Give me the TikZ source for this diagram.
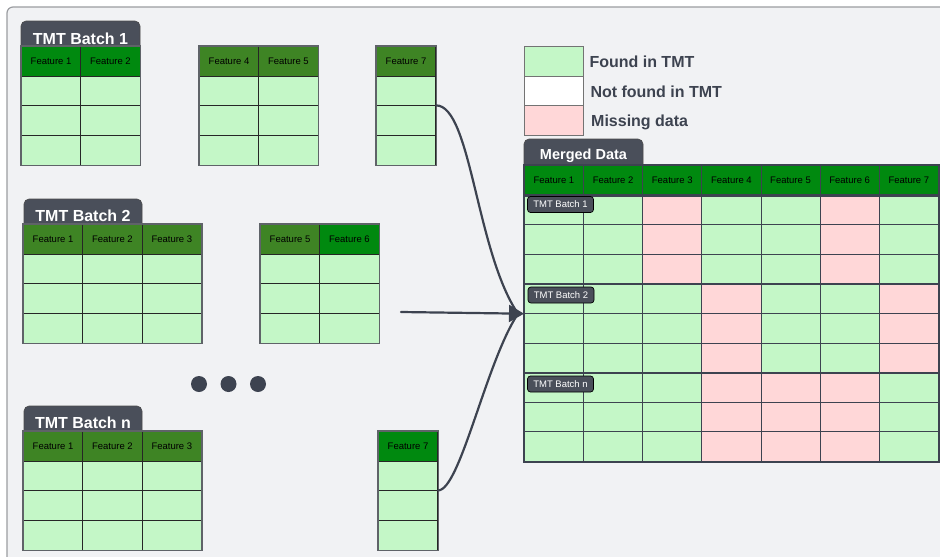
\documentclass[tikz,border=0pt]{standalone}
\usepackage{fontspec}
\setmainfont{Liberation Sans}
\usetikzlibrary{arrows.meta}
\definecolor{bg}{HTML}{F1F2F4}
\definecolor{framegray}{HTML}{9B9DA1}
\definecolor{lgreen}{HTML}{C4F7C7}
\definecolor{pinkc}{HTML}{FFD7D8}
\definecolor{hgreen}{HTML}{00890F}
\definecolor{ogreen}{HTML}{3E8424}
\definecolor{tabgray}{HTML}{4A4F5A}
\definecolor{ink}{HTML}{3D4350}
\definecolor{outerc}{HTML}{5F6368}

\newcommand\mktable[5]{%
  \foreach \c/\t [count=\i] in {#5} {%
    \node[cellbox, fill=\c] (#1-0-\i) at ({#2+(\i-1)*59.4},#3) {\t};
    \foreach \r in {1,2,3} {\node[cellbox, fill=lgreen] (#1-\r-\i) at ({#2+(\i-1)*59.4},{#3+\r*29.7}) {};}
  }%
  \draw[outerbox] (#1-0-1.north west) rectangle (#1-3-#4.south east);
}
\newcommand\mktab[5]{% name, x1, y1, x2, y2
  \filldraw[fill=tabgray, draw=black!70, line width=0.6pt, rounded corners=5pt] (#2,#5) -- (#2,#3) -- (#4,#3) -- (#4,#5);
}

\begin{document}
\begin{tikzpicture}[x=1pt,y=-1pt,
  cellbox/.style={rectangle, draw=black!85, line width=0.7pt, minimum width=59.4pt, minimum height=29.7pt,
    inner sep=0pt, anchor=north west, font=\fontsize{9.5}{11}\selectfont, text=black},
  mcell/.style={cellbox, draw=ink, minimum width=59.15pt, minimum height=29.6pt},
  outerbox/.style={draw=outerc, line width=1.2pt},
  tabtext/.style={anchor=base, inner sep=0pt, text=white, font=\fontsize{16}{18}\selectfont\bfseries},
  legtext/.style={anchor=base west, inner sep=0pt, text=ink, font=\fontsize{16}{18}\selectfont\bfseries},
  legbox/.style={rectangle, draw=black!55, line width=0.8pt, minimum width=59pt, minimum height=29.7pt, inner sep=0pt, anchor=north west},
  blabel/.style={rectangle, rounded corners=3pt, fill=tabgray, draw=black, line width=0.7pt, minimum width=66pt,
    minimum height=16pt, inner sep=0pt, text=white, font=\fontsize{9.5}{11}\selectfont},
  conn/.style={draw=ink, line width=2.2pt, line cap=round},
  connarrow/.style={conn, -{Triangle[length=15pt,width=17pt]}},
  dotc/.style={circle, fill=ink, minimum size=16pt, inner sep=0pt}
]
\useasboundingbox (0,0) rectangle (940,557);
\fill[white] (0,0) rectangle (940,557);
\filldraw[fill=bg, draw=framegray, line width=1.2pt, rounded corners=6pt] (7,7) rectangle (970,590);

% ---- Batch 1 ----
\mktab{tab1}{21}{21}{140}{46}
\node[tabtext] (tt1) at (80.5,44) {TMT Batch 1};
\mktable{b1}{21}{46}{2}{hgreen/Feature 1,hgreen/Feature 2}
\mktable{b1b}{199}{46}{2}{ogreen/Feature 4,ogreen/Feature 5}
\mktable{t7}{376}{46}{1}{ogreen/Feature 7}

% ---- Batch 2 ----
\mktab{tab2}{24}{199}{142}{224}
\node[tabtext] (tt2) at (83,221.5) {TMT Batch 2};
\mktable{b2}{23}{224}{3}{ogreen/Feature 1,ogreen/Feature 2,ogreen/Feature 3}
\mktable{b2b}{260}{224}{2}{ogreen/Feature 5,hgreen/Feature 6}

% ---- dots ----
\node[dotc] (d1) at (199,384) {};
\node[dotc] (d2) at (228.5,384) {};
\node[dotc] (d3) at (258,384) {};

% ---- Batch n ----
\mktab{tabn}{24}{406}{142}{431}
\node[tabtext] (ttn) at (83,428.3) {TMT Batch n};
\mktable{bn}{23}{431}{3}{ogreen/Feature 1,ogreen/Feature 2,ogreen/Feature 3}
\mktable{tn7}{378}{431}{1}{hgreen/Feature 7}

% ---- legend ----
\node[legbox, fill=lgreen] (leg1) at (524,46) {};
\node[legbox, fill=white] (leg2) at (524,75.7) {};
\node[legbox, fill=pinkc] (leg3) at (524,105.4) {};
\node[legtext] (lt1) at (589.3,67) {Found in TMT};
\node[legtext] (lt2) at (590.3,97) {Not found in TMT};
\node[legtext] (lt3) at (591,126) {Missing data};

% ---- merged ----
\mktab{tabm}{524}{139}{643}{165}
\node[tabtext, font=\fontsize{14.5}{17}\selectfont\bfseries] (ttm) at (583.5,159.5) {Merged Data};
\foreach \i in {1,...,7} {\node[mcell, fill=hgreen] (m-0-\i) at ({524+(\i-1)*59.15},165) {Feature \i};}
\foreach \r in {1,...,9} {
  \foreach \i in {1,...,7} {
    \pgfmathtruncatemacro\pk{(\r<4)*((\i==3)+(\i==6)) + (\r>3)*(\r<7)*((\i==4)+(\i==7)) + (\r>6)*(\i>3)*(\i<7)}
    \ifnum\pk>0 \def\cc{pinkc}\else\def\cc{lgreen}\fi
    \node[mcell, fill=\cc] (m-\r-\i) at ({524+(\i-1)*59.15},{165+\r*29.6}) {};
  }
}
\draw[ink, line width=2.5pt] (m-0-1.south west) -- (m-0-7.south east);
\draw[ink, line width=2.5pt] (m-3-1.south west) -- (m-3-7.south east);
\draw[ink, line width=2.5pt] (m-6-1.south west) -- (m-6-7.south east);
\draw[ink, line width=2pt] (m-0-1.north west) rectangle (m-9-7.south east);
\node[blabel] (ml1) at (560.5,204.5) {TMT Batch 1};
\node[blabel] (ml2) at (561,295) {TMT Batch 2};
\node[blabel] (mln) at (560.5,384) {TMT Batch n};

% ---- connectors ----
\coordinate (lstart) at (401,312);
\coordinate (tip) at (m-4-1.south west);
\draw[conn] (t7-2-1.north east) .. controls +(35,0) and +(-42,-62) .. ([xshift=-6pt]tip);
\draw[conn] (tn7-2-1.north east) .. controls +(22,0) and +(-32,48) .. ([xshift=-6pt]tip);
\draw[connarrow] (lstart) -- (tip);
\end{tikzpicture}
\end{document}
